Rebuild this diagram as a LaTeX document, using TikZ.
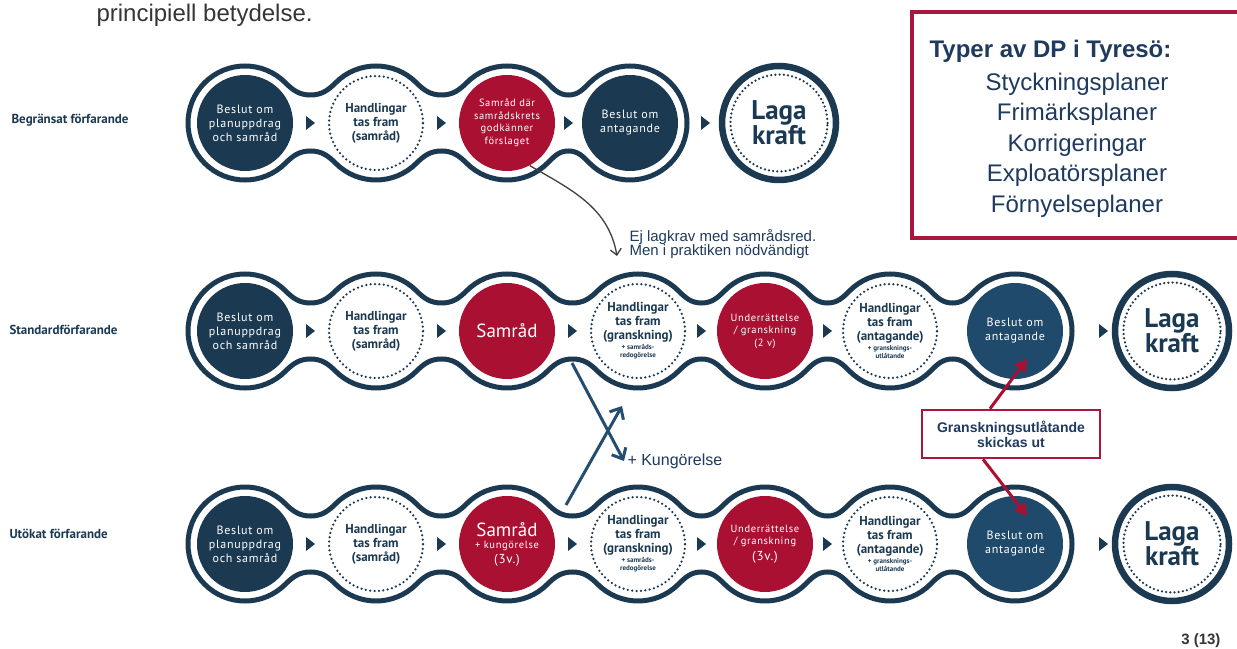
\documentclass[tikz,border=0pt]{standalone}
\usepackage{fontspec}
\setmainfont{Liberation Sans}
\newfontfamily\dinfont{PT Sans}
\newfontfamily\dinwide{PT Sans}[LetterSpace=6]
\usetikzlibrary{arrows.meta,calc}

\definecolor{navy}{RGB}{27,58,82}
\definecolor{steelnavy}{RGB}{32,74,108}
\definecolor{crimson}{RGB}{170,16,50}
\definecolor{boxred}{RGB}{168,24,60}
\definecolor{arrowblue}{RGB}{36,78,112}
\definecolor{textnavy}{RGB}{30,58,94}
\definecolor{pagegray}{RGB}{55,52,52}

\tikzset{
  chainline/.style={draw=navy, line width=5pt, line cap=round},
  darkstep/.style={circle, fill=navy, minimum size=96pt, inner sep=-14pt, text=white, align=center,
    font=\dinwide\fontsize{12}{14}\selectfont},
  dotstep/.style={circle, draw=navy, line width=2.5pt, dash pattern=on 0pt off 4.4pt, line cap=round,
    minimum size=94pt, inner sep=-14pt, text=navy, align=center,
    font=\dinfont\bfseries\fontsize{13}{14}\selectfont},
  redstep/.style={circle, fill=crimson, minimum size=96pt, inner sep=-14pt, text=white, align=center,
    font=\dinwide\fontsize{10.5}{12.5}\selectfont},
  lagastep/.style={circle, draw=navy, line width=6.5pt, minimum size=114pt, inner sep=0pt, text=navy,
    align=center, font=\dinfont\bfseries\fontsize{27}{25}\selectfont,
    path picture={\draw[navy, line width=2.5pt, dash pattern=on 0pt off 4.2pt, line cap=round]
      (path picture bounding box.center) circle (48.5pt);}},
  rowlabel/.style={anchor=west, text=navy, font=\dinfont\bfseries\fontsize{13}{14}\selectfont},
  notetext/.style={text=textnavy, align=left, font=\fontsize{15}{14.5}\selectfont},
  notearrow/.style={draw=black!75, line width=1.3pt, -{Straight Barb[length=6pt,width=11pt]}},
  bluearrow/.style={draw=arrowblue, line width=3pt, -{Straight Barb[length=9pt,width=16pt]}},
  redarrow/.style={draw=crimson, line width=3pt, -{Triangle[length=12pt,width=13pt]}}
}

\begin{document}
\begin{tikzpicture}[x=1pt, y=1pt]
    \newcommand{\stepTri}[2]{
        \fill[navy] ({#1-4},{#2+7}) -- ({#1+5},{#2}) -- ({#1-4},{#2-7}) -- cycle;
    }
    \newcommand{\stepChain}[3]{
        \draw[chainline] ({#2-40.3},{#1+40.3}) arc[start angle=135, end angle=45, radius=57pt]
          \foreach \a/\b in {#3} { to[out=-45, in=180] ({0.5*\a+0.5*\b},{#1+28})
            to[out=0, in=-135] ({\b-40.3},{#1+40.3}) arc[start angle=135, end angle=45, radius=57pt] }
          arc[start angle=45, end angle=-45, radius=57pt];
        \draw[chainline] ({#2-40.3},{#1+40.3}) arc[start angle=135, end angle=315, radius=57pt]
          \foreach \a/\b in {#3} { to[out=45, in=180] ({0.5*\a+0.5*\b},{#1-28})
            to[out=0, in=135] ({\b-40.3},{#1-40.3}) arc[start angle=225, end angle=315, radius=57pt] };
    }
\fill[white] (0,0) rectangle (1237,648);
\useasboundingbox (0,0) rectangle (1237,648);

\node[anchor=base west, text=pagegray, font=\fontsize{24}{28}\selectfont] (topLine) at (93,626) {principiell betydelse.};

% row labels
\node[rowlabel] (begLabel) at (8,528) {Begränsat förfarande};
\node[rowlabel] (stdLabel) at (6,318) {Standardförfarande};
\node[rowlabel] (utkLabel) at (6,114) {Utökat förfarande};

% begränsat
\stepChain{525}{245}{245/376,376/507,507/630}
\foreach \tx in {310,441,568,705} {\stepTri{\tx}{525}}
\node[darkstep] (b1) at (245,525) {Beslut om\\planuppdrag\\och samråd};
\node[dotstep] (b2) at (376,525) {Handlingar\\tas fram\\(samråd)};
\node[redstep] (b3) at (507,525) {Samråd där\\samrådskrets\\godkänner\\förslaget};
\node[darkstep] (b4) at (630,525) {Beslut om\\antagande};
\node[lagastep] (bLaga) at (779,525) {Laga\\kraft};

% standard
\stepChain{317}{245}{245/376,376/507,507/638,638/765,765/890,890/1015}
\foreach \tx in {310,441,572,701,827,1103} {\stepTri{\tx}{317}}
\node[darkstep] (s1) at (245,317) {Beslut om\\planuppdrag\\och samråd};
\node[dotstep] (s2) at (376,317) {Handlingar\\tas fram\\(samråd)};
\node[redstep, font=\dinfont\fontsize{19}{20}\selectfont] (s3) at (507,317) {Samråd};
\node[dotstep] (s4) at (638,317) {Handlingar\\tas fram\\(granskning)\\[-4pt]{\fontsize{7}{8}\selectfont + samråds-}\\[-6pt]{\fontsize{7}{8}\selectfont redogörelse}};
\node[redstep] (s5) at (765,317) {Underrättelse\\/ granskning\\(2 v)};
\node[dotstep] (s6) at (890,317) {Handlingar\\tas fram\\(antagande)\\[-4pt]{\fontsize{7}{8}\selectfont + gransknings-}\\[-6pt]{\fontsize{7}{8}\selectfont utlåtande}};
\node[darkstep, fill=steelnavy] (s7) at (1015,317) {Beslut om\\antagande};
\node[lagastep] (sLaga) at (1172,317) {Laga\\kraft};

% utökat
\stepChain{104}{245}{245/376,376/507,507/638,638/765,765/890,890/1015}
\foreach \tx in {310,441,572,701,827,1103} {\stepTri{\tx}{104}}
\node[darkstep] (u1) at (245,104) {Beslut om\\planuppdrag\\och samråd};
\node[dotstep] (u2) at (376,104) {Handlingar\\tas fram\\(samråd)};
\node[redstep] (u3) at (507,104) {{\dinfont\fontsize{19}{20}\selectfont Samråd}\\{+ kungörelse}\\[2pt]{\fontsize{13}{14}\selectfont (3v.)}};
\node[dotstep] (u4) at (638,104) {Handlingar\\tas fram\\(granskning)\\[-4pt]{\fontsize{7}{8}\selectfont + samråds-}\\[-6pt]{\fontsize{7}{8}\selectfont redogörelse}};
\node[redstep] (u5) at (765,104) {Underrättelse\\/ granskning\\[3pt]{\fontsize{13}{14}\selectfont (3v.)}};
\node[dotstep] (u6) at (890,104) {Handlingar\\tas fram\\(antagande)\\[-4pt]{\fontsize{7}{8}\selectfont + gransknings-}\\[-6pt]{\fontsize{7}{8}\selectfont utlåtande}};
\node[darkstep, fill=steelnavy] (u7) at (1015,104) {Beslut om\\antagande};
\node[lagastep] (uLaga) at (1172,104) {Laga\\kraft};

% notes
\node[anchor=west, notetext] (ejNote) at (626,404) {Ej lagkrav med samrådsred.\\Men i praktiken nödvändigt};
\coordinate (ejTip) at (617,392);
\draw[notearrow] (b3.-62) to[out=-30, in=100] (ejTip);

\node[anchor=west, text=textnavy, font=\fontsize{16}{18}\selectfont] (kung) at (624,187) {+ Kungörelse};
\draw[bluearrow] ($(s3)+(65,-32)$) -- (kung.west);
\draw[bluearrow] ($(u3)+(59,39)$) -- ($(s4)+(-16,-75)$);

\node[draw=boxred, line width=2.5pt, minimum width=178pt, minimum height=48pt, text=textnavy, align=center,
  font=\bfseries\fontsize{14}{15}\selectfont] (gransBox) at (1011,214) {Granskningsutlåtande\\skickas ut};
\draw[redarrow] ([xshift=-21pt]gransBox.north) -- ($(s7)+(12,-28)$);
\draw[redarrow] ([xshift=-28pt]gransBox.south) -- ($(u7)+(12,28)$);

% types box
\draw[boxred, line width=4pt] (912,636) rectangle (1250,410);
\node[anchor=base west, text=textnavy, font=\bfseries\fontsize{24}{28}\selectfont] (typTitle) at (926,590) {Typer av DP i Tyresö:};
\node[text=textnavy, align=center, font=\fontsize{24}{30.5}\selectfont] (typList) at (1077,503)
  {Styckningsplaner\\Frimärksplaner\\Korrigeringar\\Exploatörsplaner\\Förnyelseplaner};

\node[anchor=base east, text=pagegray, font=\bfseries\fontsize{15}{18}\selectfont] (pageNo) at (1224,4) {3 (13)};
\end{tikzpicture}
\end{document}
